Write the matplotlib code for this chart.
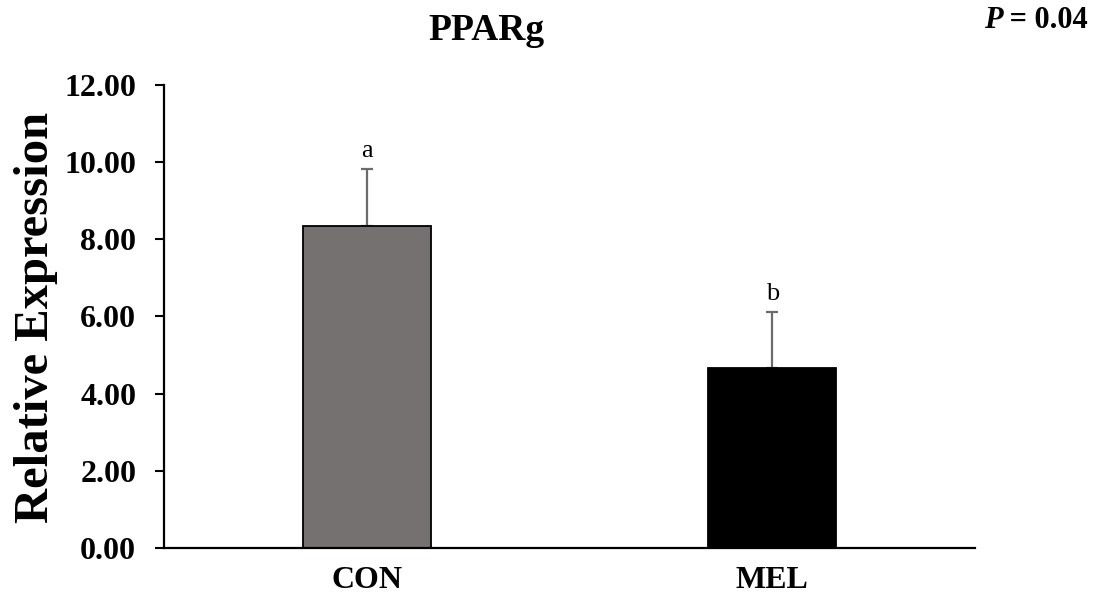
import matplotlib
matplotlib.use("Agg")
import matplotlib.pyplot as plt

# Data
groups = ["CON", "MEL"]
means = [8.35, 4.67]
sem_up = [1.46, 1.45]
letters = ["a", "b"]
bar_colors = ["#767171", "#000000"]
yticks = [0, 2, 4, 6, 8, 10, 12]

plt.rcParams["font.family"] = ["Liberation Serif", "DejaVu Serif"]

fig = plt.figure(figsize=(10.97, 6.03), dpi=100)
ax = fig.add_axes([0.1495, 0.0912, 0.8888 - 0.1495, 0.8595 - 0.0912])

x = list(range(len(groups)))
ax.bar(x, means, width=0.315, color=bar_colors, edgecolor="black",
       linewidth=1.3, zorder=2)
ax.errorbar(x, means, yerr=[[0] * len(sem_up), sem_up], fmt="none",
            ecolor="#6b6b6b", elinewidth=1.6, capsize=4.2, capthick=1.6,
            zorder=1)

for xi, m, e, lab in zip(x, means, sem_up, letters):
    ax.annotate(lab, (xi, m + e), xytext=(0, 5), textcoords="offset points",
                ha="center", va="bottom", fontsize=19)

ax.set_xlim(-0.5, len(groups) - 0.5)
ax.set_ylim(0, 12)
ax.set_yticks(yticks)
ax.set_yticklabels([f"{v:.2f}" for v in yticks])
ax.set_xticks(x)
ax.set_xticklabels(groups)

for lbl in ax.get_yticklabels() + ax.get_xticklabels():
    lbl.set_fontsize(23)
    lbl.set_fontweight("bold")

ax.tick_params(axis="y", length=6.5, width=1.5, pad=13.5, direction="out")
ax.tick_params(axis="x", length=0, pad=13)

for side in ("top", "right"):
    ax.spines[side].set_visible(False)
for side in ("left", "bottom"):
    ax.spines[side].set_linewidth(1.6)

fig.text(0.0328, 0.474, "Relative Expression", rotation=90, ha="center",
         va="center", fontsize=35, fontweight="bold")

fig.text(0.443, 0.9337, "PPARg", ha="center", va="baseline", fontsize=27,
         fontweight="bold")

# "P = 0.04" with an italic P
fig.canvas.draw()
rest = fig.text(0.9918, 0.9536, " = 0.04", ha="right", va="baseline",
                fontsize=22, fontweight="bold")
fig.canvas.draw()
bb = rest.get_window_extent()
left = fig.transFigure.inverted().transform((bb.x0, bb.y0))[0]
fig.text(left, 0.9536, "P", ha="right", va="baseline", fontsize=22,
         fontweight="bold", fontstyle="italic")

fig.savefig("out.png", dpi=100, facecolor="white")
